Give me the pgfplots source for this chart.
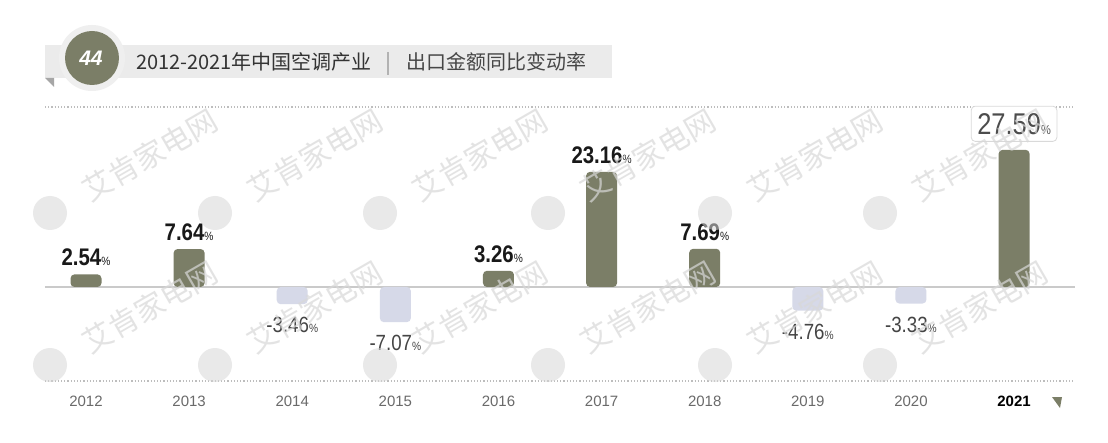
\documentclass[border=0pt]{standalone}
\usepackage{pgfplots}
\pgfplotsset{compat=1.18}
\usepackage{fontspec}
\setmainfont{Liberation Sans}
\newfontfamily\cjk{Noto Sans CJK SC}
\newfontfamily\numfont[FakeStretch=0.85]{Liberation Sans}
\definecolor{olivebar}{HTML}{7B7E67}
\definecolor{lavbar}{HTML}{D6D9E8}
\definecolor{bandgray}{HTML}{EBEBEB}
\definecolor{ringgray}{HTML}{EFEFEF}
\definecolor{zerogray}{HTML}{CACACA}
\definecolor{dotgray}{HTML}{BDBDBD}
\definecolor{tickgray}{HTML}{6A6A6A}
\definecolor{neggray}{HTML}{454545}
\definecolor{wm}{HTML}{D8D8D8}
\begin{document}
\begin{tikzpicture}[x=1pt,y=1pt]
\fill[white] (0,0) rectangle (1108,442);
% header band
\fill[bandgray] (45,{442-78}) rectangle (612,{442-45});
\fill[gray!70] (45,{442-78}) -- (54,{442-78}) -- (54,{442-87}) -- cycle;
\fill[ringgray] (92,{442-58}) circle (33pt);
\fill[olivebar] (92,{442-58}) circle (27pt);
\node[text=white, font=\fontsize{21}{21}\selectfont\bfseries\itshape] at (91,{442-58}) {44};
\node[anchor=base west, inner sep=0pt, text=black!80, font=\cjk\fontsize{20}{20}\selectfont] at (136,{442-70}) {2012-2021年中国空调产业};
\draw[gray!60, line width=1.5pt] (388,{442-52}) -- (388,{442-75});
\node[anchor=base west, inner sep=0pt, text=black!72, font=\cjk\fontsize{20}{20}\selectfont] at (406,{442-70}) {出口金额同比变动率};
% dotted frame lines
\draw[dotgray, line width=1.2pt, dash pattern=on 1.2pt off 2pt] (45,{442-107}) -- (1075,{442-107});
\draw[dotgray, line width=1.2pt, dash pattern=on 1.2pt off 2pt] (45,{442-381}) -- (1075,{442-381});
% corner triangle
\fill[olivebar] (1052,{442-397}) -- (1062,{442-397}) -- (1060,{442-408}) -- cycle;
\begin{axis}[at={(86pt,155pt)}, anchor=origin, scale only axis,
  width=1030pt, height=274pt,
  xmin=-0.398, xmax=9.59, ymin=-18.9, ymax=36.2,
  axis line style={draw=none}, ytick=\empty,
  xtick={0,1,2,3,4,5,6,7,8,9},
  xticklabels={2012,2013,2014,2015,2016,2017,2018,2019,2020,{\bfseries\color{black}2021}},
  major tick length=0pt,
  xticklabel style={font=\fontsize{15}{15}\selectfont, text=tickgray, anchor=base, yshift=-26pt},
  extra y ticks={0}, extra y tick labels={},
  extra y tick style={grid=major, major grid style={zerogray, line width=2pt}},
  clip=false]
\addplot[ybar, bar width=31pt, bar shift=0pt, fill=olivebar, draw=none, rounded corners=4pt,
  point meta=explicit symbolic, nodes near coords={\numfont\bfseries\fontsize{24}{24}\selectfont\pgfplotspointmeta{\mdseries\fontsize{12}{12}\selectfont\%}},
  nodes near coords style={anchor=south, inner sep=0pt, yshift=8pt, text=black!90}]
  coordinates {(0,2.54)[2.54] (1,7.64)[7.64] (4,3.26)[3.26] (5,23.16)[23.16] (6,7.69)[7.69]};
\addplot[ybar, bar width=31pt, bar shift=0pt, fill=lavbar, draw=none, rounded corners=4pt,
  point meta=explicit symbolic, nodes near coords={\numfont\fontsize{22}{22}\selectfont\pgfplotspointmeta{\fontsize{12}{12}\selectfont\%}},
  nodes near coords style={anchor=north, inner sep=0pt, yshift=-13pt, text=neggray}]
  coordinates {(2,-3.46)[-3.46] (3,-7.07)[-7.07] (7,-4.76)[-4.76] (8,-3.33)[-3.33]};
\addplot[ybar, bar width=31pt, bar shift=0pt, fill=olivebar, draw=none, rounded corners=4pt,
  point meta=explicit symbolic, nodes near coords={\numfont\fontsize{30}{30}\selectfont\pgfplotspointmeta{\fontsize{13}{13}\selectfont\%}},
  nodes near coords style={anchor=south, inner xsep=6pt, inner ysep=7pt, yshift=8pt, text=black!70, draw=gray!30, fill=white, line width=0.8pt}]
  coordinates {(9,27.59)[27.59]};
\end{axis}
% watermarks
\foreach \lx/\ly in {50/213,215/213,380/213,548/213,715/213,880/213,50/365,215/365,380/365,548/365,715/365,880/365}{
  \fill[wm, opacity=0.55] (\lx,{442-\ly}) circle (17pt);
  \node[rotate=30, text=wm, opacity=0.7, font=\cjk\fontsize{30}{30}\selectfont] at ({\lx+100},{442-\ly+58}) {艾肯家电网};
}
\end{tikzpicture}
\end{document}
